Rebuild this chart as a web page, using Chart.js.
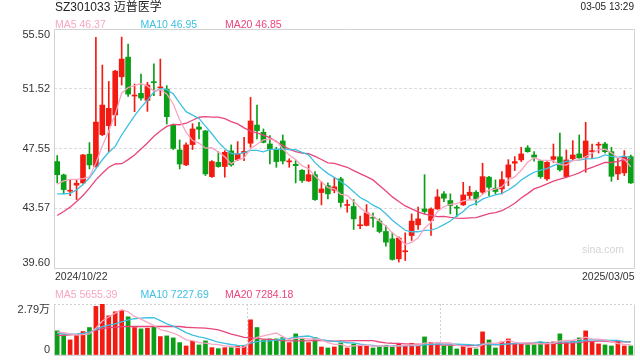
<!DOCTYPE html>
<html>
<head>
<meta charset="utf-8">
<script src="https://cdn.jsdelivr.net/npm/chart.js@4.4.1/dist/chart.umd.min.js"></script>
<style>
  html, body { margin: 0; padding: 0; background: #fff; }
  #wrap { position: relative; width: 640px; height: 360px; overflow: hidden; background: #fff;
          font-family: "Liberation Sans", Arial, "Noto Sans CJK SC", sans-serif; }
  canvas { position: absolute; left: 0; }
  .txt { position: absolute; white-space: nowrap; }
  #title { left: 55px; top: 0px; font-size: 12px; line-height: 14px; color: #222; }
  #time { right: 6px; top: 1px; font-size: 10px; line-height: 12px; color: #222; }
  .lg span { position: absolute; font-size: 10.5px; line-height: 12px; white-space: nowrap; }
  #mark { left: 582px; top: 243px; font-size: 10.5px; line-height: 12px; color: #d4d4d4; }
</style>
</head>
<body>
<div id="wrap">
  <canvas id="kline" width="640" height="286" style="top:0"></canvas>
  <canvas id="vol" width="640" height="64" style="top:296px"></canvas>
  <div id="title" class="txt">SZ301033 迈普医学</div>
  <div id="time" class="txt">03-05 13:29</div>
  <div id="priceLegend" class="lg"></div>
  <div id="volLegend" class="lg"></div>
  <div id="mark" class="txt">sina.com</div>
</div>
<script>
// ---------- data ----------
const dates = [
 '2024/10/22','2024/10/23','2024/10/24','2024/10/25','2024/10/28','2024/10/29','2024/10/30','2024/10/31',
 '2024/11/01','2024/11/04','2024/11/05','2024/11/06','2024/11/07','2024/11/08','2024/11/11','2024/11/12',
 '2024/11/13','2024/11/14','2024/11/15','2024/11/18','2024/11/19','2024/11/20','2024/11/21','2024/11/22',
 '2024/11/25','2024/11/26','2024/11/27','2024/11/28','2024/11/29',
 '2024/12/02','2024/12/03','2024/12/04','2024/12/05','2024/12/06','2024/12/09','2024/12/10','2024/12/11',
 '2024/12/12','2024/12/13','2024/12/16','2024/12/17','2024/12/18','2024/12/19','2024/12/20','2024/12/23',
 '2024/12/24','2024/12/25','2024/12/26','2024/12/27','2024/12/30','2024/12/31',
 '2025/01/02','2025/01/03','2025/01/06','2025/01/07','2025/01/08','2025/01/09','2025/01/10','2025/01/13',
 '2025/01/14','2025/01/15','2025/01/16','2025/01/17','2025/01/20','2025/01/21','2025/01/22','2025/01/23',
 '2025/01/24','2025/01/27',
 '2025/02/05','2025/02/06','2025/02/07','2025/02/10','2025/02/11','2025/02/12','2025/02/13','2025/02/14',
 '2025/02/17','2025/02/18','2025/02/19','2025/02/20','2025/02/21','2025/02/24','2025/02/25','2025/02/26',
 '2025/02/27','2025/02/28','2025/03/03','2025/03/04','2025/03/05'
];

const opens = [
 46.68,45.79,44.71,45.11,45.26,47.17,46.37,48.47,49.07,49.78,
 52.32,53.63,51.04,51.22,50.75,51.97,51.58,51.50,49.11,47.45,
 46.46,47.81,48.98,48.72,45.68,46.63,46.35,47.39,46.81,47.25,
 47.90,49.11,48.63,47.85,47.48,48.05,46.66,46.50,46.10,45.39,
 45.81,44.62,45.08,44.77,45.53,43.76,43.69,42.41,42.43,42.95,
 42.72,42.03,41.54,40.21,40.68,41.76,42.47,43.53,42.76,43.53,
 44.53,44.09,43.62,43.80,44.42,44.64,44.64,45.64,44.91,44.86,
 45.64,46.57,46.79,47.59,47.12,46.72,45.53,46.83,46.99,45.68,
 46.87,47.19,46.97,47.34,47.77,47.85,47.34,45.86,45.93,47.01
];
const highs = [
 47.08,45.85,45.46,45.48,47.17,47.94,54.94,53.10,52.01,52.75,
 54.96,54.49,51.84,52.50,51.95,53.19,53.50,51.73,49.18,48.12,
 47.92,49.20,49.29,48.75,46.74,47.34,47.41,47.79,48.01,48.29,
 50.95,50.44,48.85,48.41,47.63,48.45,46.87,46.74,46.15,46.46,
 46.01,45.35,45.26,45.57,45.64,44.13,44.15,43.05,43.82,43.25,
 42.87,42.43,41.94,41.67,41.94,43.20,43.65,45.81,43.60,44.82,
 44.69,44.53,43.76,45.30,45.04,44.75,46.57,45.70,45.46,46.01,
 46.81,47.01,47.63,47.74,47.34,46.77,46.68,47.85,48.58,47.45,
 48.07,48.45,49.29,47.85,47.96,47.96,47.63,46.97,47.41,47.12
];
const lows = [
 45.26,44.53,44.42,44.15,45.22,46.19,46.30,48.40,47.34,49.07,
 51.77,51.02,50.00,50.77,50.02,51.06,51.06,49.18,47.48,46.19,
 46.40,47.48,48.18,45.75,45.62,46.30,45.64,46.37,46.74,46.74,
 47.63,48.18,47.92,46.52,46.30,46.52,46.30,45.26,45.30,45.35,
 44.09,43.80,44.20,44.60,43.65,43.31,42.16,42.21,42.40,42.32,
 41.94,41.06,40.12,39.99,40.10,41.43,42.16,43.20,41.76,43.50,
 44.02,43.20,43.02,43.76,44.15,43.80,44.53,44.42,44.53,44.53,
 45.08,46.08,46.68,47.30,46.70,45.57,45.42,46.63,46.04,45.64,
 46.79,46.90,45.97,46.87,47.25,47.25,45.37,45.48,45.75,45.22
];
const closes = [
 45.81,44.82,44.73,45.24,47.12,46.46,49.31,50.44,50.22,52.70,
 53.50,51.17,51.08,50.91,51.77,51.93,51.62,49.67,47.56,46.52,
 47.79,48.85,48.83,45.86,46.68,46.35,47.30,46.46,47.19,47.36,
 49.38,48.74,47.96,47.52,46.68,46.72,46.70,46.41,45.42,45.81,
 44.15,44.86,44.53,45.00,43.96,43.80,42.87,42.45,43.27,42.91,
 42.03,41.32,40.17,41.59,40.72,42.72,42.87,43.36,43.53,44.33,
 44.24,43.76,43.58,44.46,44.64,44.20,45.68,44.97,44.69,45.48,
 46.46,46.68,47.19,47.34,46.97,45.68,46.63,47.01,46.13,46.79,
 47.12,46.92,48.05,47.38,47.81,47.34,45.70,46.35,47.01,45.26
];
const ma5 = [
 45.17,45.40,45.50,45.50,45.54,45.67,46.57,47.71,48.71,49.83,
 51.23,51.61,51.73,51.87,51.69,51.37,51.46,51.18,50.51,49.46,
 48.63,48.08,47.91,47.57,47.60,47.31,47.00,46.53,46.80,46.93,
 47.54,47.83,48.13,48.19,48.06,47.52,47.12,46.81,46.39,46.21,
 45.70,45.33,44.95,44.87,44.50,44.43,44.03,43.62,43.27,43.06,
 42.71,42.40,41.94,41.60,41.17,41.30,41.61,42.25,42.64,43.36,
 43.67,43.84,43.89,44.07,44.14,44.13,44.51,44.79,44.84,45.00,
 45.46,45.66,46.10,46.63,46.93,46.77,46.76,46.73,46.48,46.45,
 46.74,46.79,47.00,47.25,47.46,47.50,47.26,46.92,46.84,46.33
];
const ma10 = [
 44.53,44.53,44.56,44.80,45.15,45.60,46.20,46.80,47.30,47.69,
 48.45,49.09,49.72,50.29,50.76,51.30,51.53,51.46,51.19,50.57,
 50.00,49.77,49.55,49.04,48.53,47.97,47.54,47.22,47.18,47.27,
 47.43,47.42,47.33,47.49,47.49,47.53,47.47,47.47,47.29,47.13,
 46.61,46.22,45.88,45.63,45.36,45.06,44.68,44.29,44.07,43.78,
 43.57,43.21,42.78,42.44,42.11,42.01,42.01,42.10,42.12,42.26,
 42.49,42.73,43.07,43.36,43.75,43.90,44.18,44.34,44.46,44.57,
 44.79,45.08,45.45,45.73,45.97,46.11,46.21,46.41,46.56,46.69,
 46.75,46.78,46.86,46.87,46.95,47.12,47.03,46.96,47.05,46.89
];
const ma20 = [
 43.09,43.36,43.65,44.02,44.42,44.91,45.46,45.90,46.30,46.52,
 46.54,46.81,47.12,47.52,47.92,48.36,48.71,49.02,49.16,49.13,
 49.23,49.43,49.63,49.67,49.64,49.64,49.54,49.34,49.19,48.92,
 48.71,48.59,48.44,48.27,48.01,47.75,47.51,47.34,47.24,47.20,
 47.02,46.82,46.60,46.56,46.43,46.30,46.08,45.88,45.68,45.46,
 45.09,44.72,44.33,44.03,43.73,43.53,43.34,43.19,43.10,43.02,
 43.03,42.97,42.92,42.90,42.93,42.95,43.09,43.22,43.29,43.42,
 43.64,43.91,44.26,44.55,44.86,45.01,45.19,45.38,45.51,45.63,
 45.77,45.93,46.15,46.30,46.46,46.62,46.62,46.69,46.80,46.79
];
const volumes = [
 13200,11000,8250,10630,12830,15030,26580,27900,21450,23650,
 24380,20900,15030,14300,14670,15580,10080,10450,9350,6780,
 4950,7520,5500,7700,4030,3480,4030,4030,4950,4950,
 19250,15030,8250,8800,8800,9530,6780,11550,9170,6780,
 9530,4400,3850,4400,6600,3850,6050,5320,4950,3850,
 4770,5320,4580,6420,4950,6420,4950,9900,6970,6050,
 4950,4950,3300,4950,3850,3300,12650,8250,3850,7150,
 8800,6420,6050,5500,5500,7150,6970,7150,11550,6780,
 7880,9350,13200,7150,6050,5500,4950,7700,4950,4950
];
const volMa5 = [
 12500,12200,11500,11000,11180,11550,14660,18590,20760,22920,
 24790,23660,21080,19650,17860,16100,13930,13020,12030,10450,
 8320,7810,6820,6490,5940,5650,4950,4650,4100,4290,
 7440,9640,10490,11260,12030,10080,8430,9090,9170,8760,
 8760,8290,6750,5790,5760,4620,4950,5240,5350,4800,
 4990,4840,4690,4990,5210,5540,5460,6530,6640,6860,
 6560,6560,5240,4840,4400,4070,5610,6600,6380,7040,
 8140,6890,6450,6780,6450,6120,6230,6450,7660,7920,
 8070,8540,9750,8870,8730,8250,7370,6270,5830,5610
];
const volMa10 = [
 11800,11600,11400,11400,11800,12500,14000,15500,16300,17050,
 18170,19160,19840,20210,20390,20440,18790,17050,15840,14150,
 12210,10870,9920,9260,8190,6980,6380,5740,5300,5110,
 6540,7300,7570,7680,8160,8760,9040,9790,10210,10390,
 9420,8360,7920,7480,7260,6690,6620,6000,5570,5280,
 4800,4900,4970,5170,5010,5260,5150,5610,5810,6030,
 6050,6010,5890,5740,5630,5320,6090,5920,5610,5720,
 6110,6250,6530,6580,6750,7130,6560,6450,7220,7190,
 7100,7390,8100,8270,8320,8160,7960,8010,7350,7170
];
const volMa20 = [
 10600,10800,11000,11300,11800,12500,13500,14500,15000,15300,
 15500,15600,15600,15600,15600,15600,15600,15600,15600,15600,
 15190,15020,14880,14730,14290,13710,12590,11390,10570,9630,
 9380,9080,8740,8470,8180,7870,7710,7760,7750,7750,
 7980,7830,7740,7580,7710,7730,7830,7890,7890,7840,
 7110,6630,6440,6330,6130,5980,5890,5800,5690,5660,
 5430,5460,5430,5460,5320,5290,5620,5770,5710,5880,
 6080,6130,6210,6160,6190,6220,6330,6190,6420,6450,
 6600,6820,7320,7430,7540,7650,7260,7230,7290,7180
];

const priceTicks = [39.60, 43.57, 47.55, 51.52, 55.50];
const volTicks = [0, 27900];
const volTickLabels = ['0', '2.79万'];
const priceLegendItems = [['MA5', '46.37'], ['MA10', '46.95'], ['MA20', '46.85']];
const volLegendItems = [['MA5', '5655.39'], ['MA10', '7227.69'], ['MA20', '7284.18']];

// ---------- styles ----------
const UP = '#f31b11', DOWN = '#0b9e17';
const C5 = '#f8a6c4', C10 = '#3fc0e2', C20 = '#e9467c';
const maColors = [C5, C10, C20];
const legendX = [55, 140.5, 225];
const FONT = '"Liberation Sans", Arial, "Noto Sans CJK SC", sans-serif';

function buildLegend(id, items, top) {
  const el = document.getElementById(id);
  items.forEach((it, k) => {
    const s = document.createElement('span');
    s.textContent = it[0] + ' ' + it[1];
    s.style.left = legendX[k] + 'px';
    s.style.top = top + 'px';
    s.style.color = maColors[k];
    el.appendChild(s);
  });
}
buildLegend('priceLegend', priceLegendItems, 18);
buildLegend('volLegend', volLegendItems, 288);

const candleColors = closes.map((c, i) => (c >= opens[i] ? UP : DOWN));

// frame around chart area
const framePlugin = {
  id: 'frame',
  beforeDatasetsDraw(chart, args, o) {
    const { ctx, chartArea: a } = chart;
    const l = Math.round(a.left) + 0.5, r = Math.round(a.right) + 0.5;
    const t = Math.round(a.top) + 0.5, b = Math.round(a.bottom) + 0.5;
    ctx.save();
    ctx.strokeStyle = o.color || '#d2d2d2';
    ctx.lineWidth = 1;
    ctx.beginPath();
    ctx.moveTo(l, t); ctx.lineTo(l, b); ctx.lineTo(r, b); ctx.lineTo(r, t);
    if (!o.openTop) ctx.lineTo(l, t);
    ctx.stroke();
    ctx.restore();
  }
};

// y tick labels (first / last kept inside the panel) and first / last dates
const labelPlugin = {
  id: 'axisLabels',
  afterDraw(chart, args, o) {
    const { ctx, chartArea: a } = chart;
    const ys = chart.scales.y;
    ctx.save();
    ctx.font = '11px ' + FONT;
    ctx.fillStyle = '#333';
    ctx.textAlign = 'right';
    const n = ys.ticks.length;
    ys.ticks.forEach((t, i) => {
      const y = ys.getPixelForValue(t.value);
      ctx.textBaseline = i === 0 ? 'bottom' : (i === n - 1 ? 'top' : 'middle');
      ctx.fillText(o.fmt(t.value, i), a.left - 4, y + (i === 0 ? 0.5 : (i === n - 1 ? 0.5 : 0)));
    });
    if (o.showDates) {
      const labels = chart.data.labels;
      ctx.font = '10.5px ' + FONT;
      ctx.textBaseline = 'middle';
      ctx.textAlign = 'left';
      ctx.fillText(labels[0], a.left + 1, a.bottom + 9.5);
      ctx.textAlign = 'right';
      ctx.fillText(labels[labels.length - 1], a.right + 0.5, a.bottom + 9.5);
    }
    ctx.restore();
  }
};

Chart.defaults.font.family = FONT;

function maLine(label, data, color, order) {
  return { type: 'line', label, data, borderColor: color, borderWidth: 1.3,
           pointRadius: 0, fill: false, tension: 0, order };
}

new Chart(document.getElementById('kline'), {
  type: 'bar',
  data: {
    labels: dates,
    datasets: [
      maLine('MA5', ma5, C5, 0),
      maLine('MA10', ma10, C10, 1),
      maLine('MA20', ma20, C20, 2),
      { label: 'body', data: opens.map((o, i) => [o, closes[i]]), backgroundColor: candleColors,
        barThickness: 5, grouped: false, minBarLength: 1, borderWidth: 0, order: 3 },
      { label: 'wick', data: lows.map((l, i) => [l, highs[i]]), backgroundColor: candleColors,
        barThickness: 1, grouped: false, borderWidth: 0, order: 4 }
    ]
  },
  options: {
    responsive: false, animation: false, events: [],
    layout: { padding: { left: 0, top: 29, right: 6, bottom: 0 } },
    plugins: {
      legend: { display: false }, tooltip: { enabled: false },
      frame: { color: '#d2d2d2' },
      axisLabels: { fmt: v => v.toFixed(2), showDates: true }
    },
    scales: {
      x: { offset: true, grid: { display: false }, border: { display: false },
           ticks: { display: false }, afterFit(s) { s.height = 18; } },
      y: { min: priceTicks[0], max: priceTicks[priceTicks.length - 1],
           afterBuildTicks(s) { s.ticks = priceTicks.map(v => ({ value: v })); },
           ticks: { display: false },
           grid: { drawTicks: false, lineWidth: 1,
                   color: c => (c.index > 0 && c.index < priceTicks.length - 1) ? '#dcdcdc' : 'rgba(0,0,0,0)' },
           border: { display: false, dash: [3, 2] },
           afterFit(s) { s.width = 54; } }
    }
  },
  plugins: [framePlugin, labelPlugin]
});

new Chart(document.getElementById('vol'), {
  type: 'bar',
  data: {
    labels: dates,
    datasets: [
      maLine('MA5', volMa5, C5, 0),
      maLine('MA10', volMa10, C10, 1),
      maLine('MA20', volMa20, C20, 2),
      { label: 'vol', data: volumes, backgroundColor: candleColors, barThickness: 4,
        borderWidth: 0, order: 3 }
    ]
  },
  options: {
    responsive: false, animation: false, events: [],
    layout: { padding: { left: 0, top: 8, right: 6, bottom: 5 } },
    plugins: {
      legend: { display: false }, tooltip: { enabled: false },
      frame: { color: '#d2d2d2', openTop: true },
      axisLabels: { fmt: (v, i) => volTickLabels[i], showDates: false }
    },
    scales: {
      x: { offset: true, ticks: { display: false },
           grid: { offset: true, drawTicks: false, lineWidth: 1,
                   color: c => (c.index === 30 || c.index === 60) ? '#d0d0d0' : 'rgba(0,0,0,0)' },
           border: { display: false, dash: [2, 2] },
           afterFit(s) { s.height = 0; } },
      y: { min: volTicks[0], max: volTicks[volTicks.length - 1],
           afterBuildTicks(s) { s.ticks = volTicks.map(v => ({ value: v })); },
           ticks: { display: false },
           grid: { drawTicks: false, lineWidth: 1,
                   color: c => (c.index === volTicks.length - 1) ? '#d0d0d0' : 'rgba(0,0,0,0)' },
           border: { display: false, dash: [2, 2] },
           afterFit(s) { s.width = 54; } }
    }
  },
  plugins: [framePlugin, labelPlugin]
});
</script>
</body>
</html>
